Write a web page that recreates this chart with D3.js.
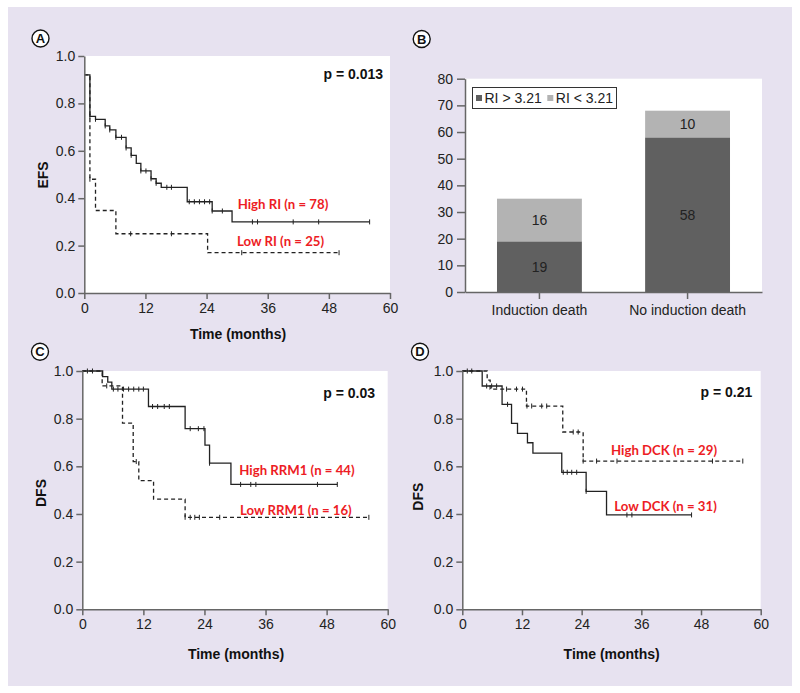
<!DOCTYPE html>
<html><head><meta charset="utf-8">
<script src="https://cdn.jsdelivr.net/npm/d3@7"></script>
<style>
body{margin:0;background:#fff}
svg{display:block}
text{font-family:"Liberation Sans",Arial,Helvetica,sans-serif}
text.red{font-family:Lato,"Open Sans",sans-serif}
</style>
</head><body>
<svg id="chart" width="800" height="693"></svg>
<script>
// ---------------- DATA ----------------
const monthTicks = [0, 12, 24, 36, 48, 60];
const survTicks = [0, 0.2, 0.4, 0.6, 0.8, 1.0];

// Panel A – EFS by RI
const highRITimes = [0, 1.1, 2.2, 4.1, 5.0, 6.2, 8.2, 9.2, 10.2, 11.1, 13.1, 14.1, 15.1, 20.2, 25.1, 29.0, 56.0];
const highRISurv  = [0.92, 0.745, 0.733, 0.705, 0.688, 0.657, 0.612, 0.581, 0.547, 0.515, 0.482, 0.463, 0.446, 0.385, 0.346, 0.300, 0.300];
const highRICensor = [1.1, 2.2, 4.1, 5.0, 6.2, 7.3, 8.2, 9.2, 11.1, 12.1, 13.1, 14.1, 16.2, 17.1, 20.6, 21.6, 22.6, 23.6, 24.6, 25.1, 27.1, 33.0, 34.0, 41.0, 46.0, 56.0];
const lowRITimes = [0, 1.1, 2.2, 6.2, 24.2, 50.0];
const lowRISurv  = [0.92, 0.48, 0.348, 0.25, 0.17, 0.17];
const lowRICensor = [1.1, 9.1, 17.1, 30.9, 50.0];

// Panel B – stacked bars
const bCategories = ["Induction death", "No induction death"];
const bHighRI = [19, 58];
const bLowRI = [16, 10];
const bTicks = [0, 10, 20, 30, 40, 50, 60, 70, 80];
const bLegend = ["RI > 3.21", "RI < 3.21"];

// Panel C – DFS by RRM1
const highRRM1Times = [0, 4.0, 5.0, 5.8, 13.0, 20.2, 24.1, 25.0, 29.2, 50.1];
const highRRM1Surv  = [1.0, 0.976, 0.953, 0.924, 0.851, 0.758, 0.689, 0.613, 0.524, 0.524];
const highRRM1Censor = [1.0, 2.0, 6.1, 7.0, 8.1, 9.1, 10.1, 11.1, 12.0, 13.8, 14.8, 16.1, 17.1, 21.2, 22.8, 23.9, 25.0, 31.1, 33.1, 34.1, 46.2, 50.1];
const lowRRM1Times = [0, 3.9, 7.9, 10.0, 11.1, 14.0, 20.2, 56.3];
const lowRRM1Surv  = [1.0, 0.9375, 0.781, 0.62, 0.54, 0.462, 0.386, 0.386];
const lowRRM1Censor = [4.8, 10.6, 20.2, 21.2, 22.1, 23.0, 27.0, 56.3];

// Panel D – DFS by DCK
const lowDCKTimes = [0, 4.0, 8.0, 9.9, 11.1, 13.1, 14.2, 20.0, 24.9, 29.0, 46.1];
const lowDCKSurv  = [1.0, 0.937, 0.86, 0.78, 0.738, 0.699, 0.655, 0.575, 0.495, 0.396, 0.396];
const lowDCKCensor = [1.0, 1.9, 4.9, 5.9, 6.9, 9.1, 20.3, 21.1, 22.0, 23.0, 24.9, 33.1, 34.1, 46.1];
const highDCKTimes = [0, 5.0, 5.6, 12.9, 20.2, 24.3, 56.4];
const highDCKSurv  = [1.0, 0.962, 0.924, 0.853, 0.744, 0.622, 0.622];
const highDCKCensor = [8.9, 10.9, 12.1, 13.0, 13.95, 15.97, 16.97, 22.3, 23.3, 24.3, 27.0, 31.1, 50.3, 56.4];

// ---------------- DRAW ----------------
const svg = d3.select("#chart");
const RED = "#ed1c24";
const AXIS = "#666";
const INK = "#222";

svg.append("rect").attr("width", 800).attr("height", 693).attr("fill", "#fff");
svg.append("rect").attr("x", 8).attr("y", 7).attr("width", 784).attr("height", 679).attr("fill", "#e7e2f0");

function styleAxis(sel) {
  sel.select(".domain").attr("stroke", AXIS).attr("stroke-width", 1.5);
  sel.selectAll(".tick line").attr("stroke", AXIS).attr("stroke-width", 1.5);
  sel.selectAll(".tick text").attr("fill", INK).attr("font-size", 14);
}

function panelLabel(cx, cy, letter) {
  svg.append("circle").attr("cx", cx).attr("cy", cy).attr("r", 8.5)
     .attr("fill", "#fff").attr("stroke", "#111").attr("stroke-width", 1.4);
  svg.append("text").attr("x", cx).attr("y", cy).attr("dy", "0.36em")
     .attr("text-anchor", "middle").attr("font-weight", "bold").attr("font-size", 13)
     .attr("fill", "#111").text(letter);
}

function survAt(times, surv, t) {
  let s = surv[0];
  for (let i = 0; i < times.length; i++) if (times[i] <= t + 1e-9) s = surv[i];
  return s;
}

function kmPanel(o) {
  const x = d3.scaleLinear().domain([0, 60]).range([o.x0, o.x1]);
  const y = d3.scaleLinear().domain([0, 1]).range([o.y0, o.y1]);
  const g = svg.append("g");
  g.append("rect").attr("x", o.x0).attr("y", o.y1)
    .attr("width", o.x1 - o.x0).attr("height", o.y0 - o.y1).attr("fill", "#fff");

  const line = d3.line().x(d => x(d[0])).y(d => y(d[1])).curve(d3.curveStepAfter);
  o.series.forEach(s => {
    const pts = s.times.map((t, i) => [t, s.surv[i]]);
    g.append("path").attr("d", line(pts)).attr("fill", "none")
      .attr("stroke", INK).attr("stroke-width", 1.3)
      .attr("stroke-dasharray", s.dash ? "4,3" : null);
    g.selectAll(null).data(s.censor).join("line")
      .attr("x1", d => x(d)).attr("x2", d => x(d))
      .attr("y1", d => y(survAt(s.times, s.surv, d)) - 2.5)
      .attr("y2", d => y(survAt(s.times, s.surv, d)) + 2.5)
      .attr("stroke", INK).attr("stroke-width", 1);
  });

  const xa = g.append("g").attr("transform", `translate(0,${o.y0})`)
    .call(d3.axisBottom(x).tickValues(monthTicks).tickSize(6).tickSizeOuter(0)
      .tickPadding(4).tickFormat(d3.format("d")));
  styleAxis(xa);
  const ya = g.append("g").attr("transform", `translate(${o.x0},0)`)
    .call(d3.axisLeft(y).tickValues(survTicks).tickSize(6).tickSizeOuter(0)
      .tickPadding(3).tickFormat(d3.format(".1f")));
  styleAxis(ya);

  g.append("text").attr("x", o.pX).attr("y", o.pY).attr("text-anchor", "end")
    .attr("font-weight", "bold").attr("font-size", 14).attr("fill", "#111").text(o.pText);
  o.labels.forEach(l => {
    g.append("text").attr("class", "red").attr("x", l.x).attr("y", l.y)
      .attr("font-weight", "bold").attr("font-size", 13.2).attr("fill", RED).text(l.text);
  });
  g.append("text").attr("transform", `translate(${o.yLabX},${o.yLabY}) rotate(-90)`)
    .attr("dy", "0.36em").attr("text-anchor", "middle").attr("font-weight", "bold")
    .attr("font-size", 14).attr("fill", "#111").text(o.yLabel);
  g.append("text").attr("x", o.xLabX).attr("y", o.xLabY).attr("text-anchor", "middle")
    .attr("font-weight", "bold").attr("font-size", 14).attr("fill", "#111").text("Time (months)");
}

// Panel A
kmPanel({
  x0: 84.3, x1: 390, y0: 293, y1: 56,
  series: [
    {times: lowRITimes, surv: lowRISurv, censor: lowRICensor, dash: true},
    {times: highRITimes, surv: highRISurv, censor: highRICensor, dash: false}
  ],
  pText: "p = 0.013", pX: 383, pY: 78.5,
  labels: [{text: "High RI (n = 78)", x: 237.7, y: 208.5}, {text: "Low RI (n = 25)", x: 237, y: 246}],
  yLabel: "EFS", yLabX: 42.7, yLabY: 175,
  xLabX: 238, xLabY: 338.5
});
panelLabel(40.5, 38.5, "A");

// Panel C
kmPanel({
  x0: 82.3, x1: 387.7, y0: 609.3, y1: 371,
  series: [
    {times: lowRRM1Times, surv: lowRRM1Surv, censor: lowRRM1Censor, dash: true},
    {times: highRRM1Times, surv: highRRM1Surv, censor: highRRM1Censor, dash: false}
  ],
  pText: "p = 0.03", pX: 375, pY: 398.3,
  labels: [{text: "High RRM1 (n = 44)", x: 239.3, y: 475}, {text: "Low RRM1 (n = 16)", x: 240, y: 515}],
  yLabel: "DFS", yLabX: 40.7, yLabY: 493,
  xLabX: 236, xLabY: 659
});
panelLabel(40, 351.7, "C");

// Panel D
kmPanel({
  x0: 462.3, x1: 760.7, y0: 609.3, y1: 371,
  series: [
    {times: highDCKTimes, surv: highDCKSurv, censor: highDCKCensor, dash: true},
    {times: lowDCKTimes, surv: lowDCKSurv, censor: lowDCKCensor, dash: false}
  ],
  pText: "p = 0.21", pX: 752.3, pY: 397.3,
  labels: [{text: "High DCK (n = 29)", x: 611, y: 455}, {text: "Low DCK (n = 31)", x: 614.3, y: 510.7}],
  yLabel: "DFS", yLabX: 418.3, yLabY: 496.7,
  xLabX: 611.7, xLabY: 659
});
panelLabel(420, 351.7, "D");

// Panel B – stacked bars
(function () {
  const x0 = 465, x1 = 762, y0 = 292, y1 = 78.7;
  const table = bCategories.map((c, i) => ({cat: c, high: bHighRI[i], low: bLowRI[i]}));
  const x = d3.scaleBand().domain(bCategories).range([x0, x1]).paddingInner(0.427).paddingOuter(0.216);
  const y = d3.scaleLinear().domain([0, 80]).range([y0, y1]);
  const g = svg.append("g");
  g.append("rect").attr("x", x0).attr("y", y1).attr("width", x1 - x0).attr("height", y0 - y1).attr("fill", "#fff");
  const colors = {high: "#606060", low: "#b3b3b3"};
  const stacked = d3.stack().keys(["high", "low"])(table);
  stacked.forEach(layer => {
    g.selectAll(null).data(layer).join("rect")
      .attr("x", d => x(d.data.cat)).attr("width", x.bandwidth())
      .attr("y", d => y(d[1])).attr("height", d => y(d[0]) - y(d[1]))
      .attr("fill", colors[layer.key]);
    g.selectAll(null).data(layer).join("text")
      .attr("x", d => x(d.data.cat) + x.bandwidth() / 2)
      .attr("y", d => (y(d[0]) + y(d[1])) / 2).attr("dy", "0.36em")
      .attr("text-anchor", "middle").attr("font-size", 14).attr("fill", INK)
      .text(d => d.data[layer.key]);
  });
  const xa = g.append("g").attr("transform", `translate(0,${y0})`)
    .call(d3.axisBottom(x).tickSize(7).tickSizeOuter(0).tickPadding(6));
  styleAxis(xa);
  const ya = g.append("g").attr("transform", `translate(${x0},0)`)
    .call(d3.axisLeft(y).tickValues(bTicks).tickSize(8).tickSizeOuter(0).tickPadding(4));
  styleAxis(ya);
  // legend
  const lg = g.append("g");
  lg.append("rect").attr("x", 472.5).attr("y", 87.5).attr("width", 144).attr("height", 21)
    .attr("fill", "#fff").attr("stroke", "#333").attr("stroke-width", 1);
  const legItems = [{key: "high", x: 476}, {key: "low", x: 547.3}];
  legItems.forEach((it, i) => {
    lg.append("rect").attr("x", it.x).attr("y", 95).attr("width", 6).attr("height", 6).attr("fill", colors[it.key]);
    lg.append("text").attr("x", it.x + 8.5).attr("y", 103).attr("font-size", 14).attr("fill", INK).text(bLegend[i]);
  });
})();
panelLabel(421.7, 39, "B");
</script>
</body></html>
